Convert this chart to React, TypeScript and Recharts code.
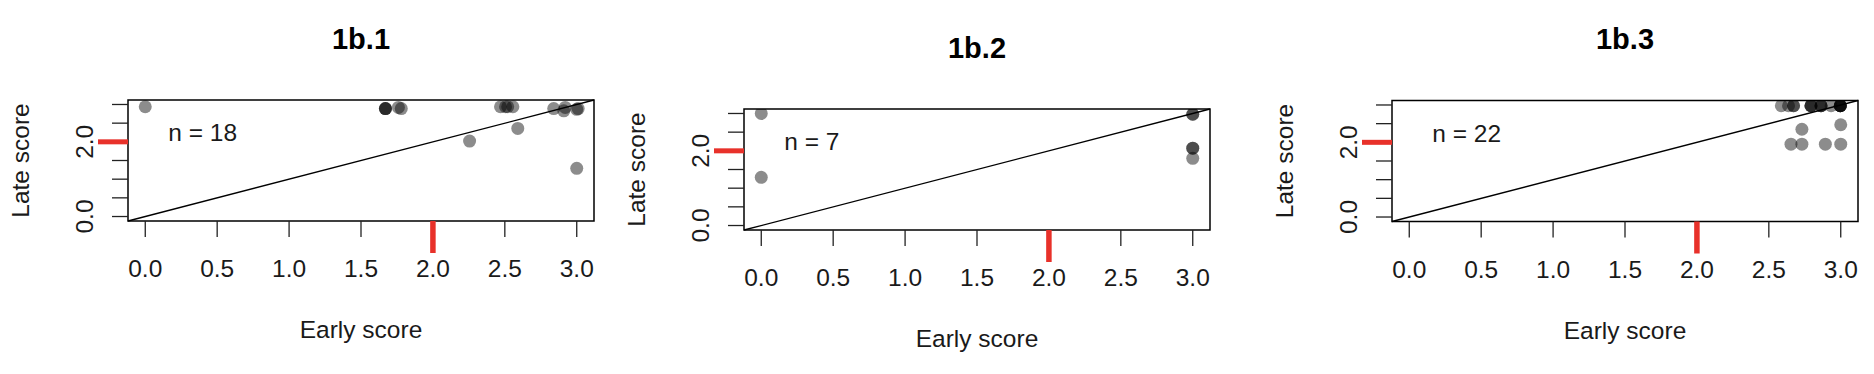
import React from 'react';
import {
  ScatterChart,
  Scatter,
  XAxis,
  YAxis,
  ReferenceArea,
  ReferenceLine,
  ReferenceDot,
  Label,
} from 'recharts';

// panel titles and sample counts
const titles = ['1b.1', '1b.2', '1b.3'];
const counts = [18, 7, 22];

// 1b.1
const p1Early = [0, 1.67, 1.67, 1.67, 1.76, 1.78, 2.255, 2.47, 2.505, 2.52, 2.556, 2.59, 2.84, 2.91, 2.92, 3.0, 3.01, 3.0];
const p1Late = [2.94, 2.89, 2.89, 2.89, 2.92, 2.89, 2.02, 2.94, 2.94, 2.94, 2.94, 2.36, 2.89, 2.83, 2.92, 2.87, 2.89, 1.29];

// 1b.2
const p2Early = [0, 0, 3, 3, 3, 3, 3];
const p2Late = [3.0, 1.29, 2.98, 2.98, 2.07, 2.07, 1.8];

// 1b.3
const p3Early = [2.587, 2.637, 2.672, 2.672, 2.793, 2.793, 2.793, 2.863, 2.863, 2.863, 2.933, 2.997, 2.997, 2.997, 2.997, 2.997, 2.73, 3.0, 2.654, 2.73, 2.893, 3.0];
const p3Late = [2.98, 2.98, 2.98, 2.98, 2.98, 2.98, 2.98, 2.98, 2.98, 2.98, 2.98, 2.98, 2.98, 2.98, 2.98, 2.98, 2.35, 2.47, 1.95, 1.95, 1.95, 1.95];

const xTicks = [0, 0.5, 1, 1.5, 2, 2.5, 3];
const yTicks = [0, 0.5, 1, 1.5, 2, 2.5, 3];
const yLabelled = [0, 2];
const cutoff = 2;
const lo = -0.12;
const hi = 3.12;
const nLabelAt = { x: 0.16, y: 2.25 };

const FONT = '"Liberation Sans", Arial, Helvetica, sans-serif';
const INK = '#1a1a1a';
const RED = '#e8312a';

// where each plot box sits on the page
const frames = [
  { left: 128, top: 100, width: 466, height: 121 },
  { left: 743.5, top: 109, width: 466, height: 121 },
  { left: 1392, top: 100.5, width: 466, height: 121 },
];
const Y_AXIS_W = 56;
const LEFT_PAD = 70;
const X_AXIS_H = 130;
const TICK = 16;

const XTick = (props: any) => {
  const { x, y, payload } = props;
  const v = payload.value;
  return (
    <g>
      {v === cutoff && (
        <line x1={x} x2={x} y1={y - TICK} y2={y + TICK} stroke={RED} strokeWidth={5.5} />
      )}
      <text x={x} y={y + 40} textAnchor="middle" fontSize={24.5} fontFamily={FONT} fill={INK}>
        {v.toFixed(1)}
      </text>
    </g>
  );
};

const YTick = (props: any) => {
  const { x, y, payload } = props;
  const v = payload.value;
  const bx = x - 19;
  return (
    <g>
      {v === cutoff && (
        <line x1={x + TICK} x2={x - 14} y1={y} y2={y} stroke={RED} strokeWidth={5} />
      )}
      {yLabelled.includes(v) && (
        <text
          x={bx}
          y={y}
          transform={`rotate(-90 ${bx} ${y})`}
          textAnchor="middle"
          fontSize={24.5}
          fontFamily={FONT}
          fill={INK}
        >
          {v.toFixed(1)}
        </text>
      )}
    </g>
  );
};

const Dot = (props: any) => (
  <circle cx={props.cx} cy={props.cy} r={6.5} fill="#000" fillOpacity={0.45} />
);

const frameText = (title: string) => (props: any) => {
  const vb = props.viewBox || {};
  const cx = vb.x + vb.width / 2;
  const cy = vb.y + vb.height / 2;
  const lx = vb.x - 98.7;
  return (
    <g fontFamily={FONT}>
      <text x={cx} y={vb.y - 51.5} textAnchor="middle" fontSize={29} fontWeight="bold" fill="#000">
        {title}
      </text>
      <text x={cx} y={vb.y + vb.height + 117.3} textAnchor="middle" fontSize={24.5} fill={INK}>
        Early score
      </text>
      <text
        x={lx}
        y={cy}
        transform={`rotate(-90 ${lx} ${cy})`}
        textAnchor="middle"
        fontSize={24.5}
        fill={INK}
      >
        Late score
      </text>
    </g>
  );
};

function Panel({ idx, early, late }: { idx: number; early: number[]; late: number[] }) {
  const f = frames[idx];
  const rows = early.map((e, i) => ({ x: e, y: late[i] }));
  const chartW = LEFT_PAD + Y_AXIS_W + f.width + 12;
  return (
    <div style={{ position: 'absolute', left: f.left - LEFT_PAD - Y_AXIS_W, top: 0 }}>
      <ScatterChart
        width={chartW}
        height={374}
        margin={{
          top: f.top,
          left: LEFT_PAD,
          right: 12,
          bottom: 374 - f.top - f.height - X_AXIS_H,
        }}
      >
        <XAxis
          type="number"
          dataKey="x"
          domain={[lo, hi]}
          allowDataOverflow
          ticks={xTicks}
          interval={0}
          height={X_AXIS_H}
          axisLine={false}
          tickSize={TICK}
          tickMargin={0}
          tickLine={{ stroke: '#222', strokeWidth: 1.3 }}
          tick={<XTick />}
        />
        <YAxis
          type="number"
          dataKey="y"
          domain={[lo, hi]}
          allowDataOverflow
          ticks={yTicks}
          interval={0}
          width={Y_AXIS_W}
          axisLine={false}
          tickSize={TICK}
          tickMargin={0}
          tickLine={{ stroke: '#222', strokeWidth: 1.3 }}
          tick={<YTick />}
        />
        <ReferenceArea
          x1={lo}
          x2={hi}
          y1={lo}
          y2={hi}
          fill="none"
          fillOpacity={0}
          stroke="#000"
          strokeWidth={1.5}
          ifOverflow="visible"
        >
          <Label content={frameText(titles[idx])} />
        </ReferenceArea>
        <Scatter data={rows} shape={<Dot />} isAnimationActive={false} />
        <ReferenceLine
          segment={[
            { x: lo, y: lo },
            { x: hi, y: hi },
          ]}
          stroke="#000"
          strokeWidth={1.3}
          ifOverflow="visible"
        />
        <ReferenceDot
          x={nLabelAt.x}
          y={nLabelAt.y}
          r={0}
          fill="none"
          stroke="none"
          ifOverflow="visible"
          label={{
            value: `n = ${counts[idx]}`,
            position: 'right',
            offset: 0,
            fontSize: 24.5,
            fontFamily: FONT,
            fill: INK,
          }}
        />
      </ScatterChart>
    </div>
  );
}

export default function App() {
  return (
    <div
      style={{
        position: 'absolute',
        left: 0,
        top: 0,
        width: 1874,
        height: 374,
        background: '#fff',
        overflow: 'hidden',
      }}
    >
      <Panel idx={0} early={p1Early} late={p1Late} />
      <Panel idx={1} early={p2Early} late={p2Late} />
      <Panel idx={2} early={p3Early} late={p3Late} />
    </div>
  );
}
